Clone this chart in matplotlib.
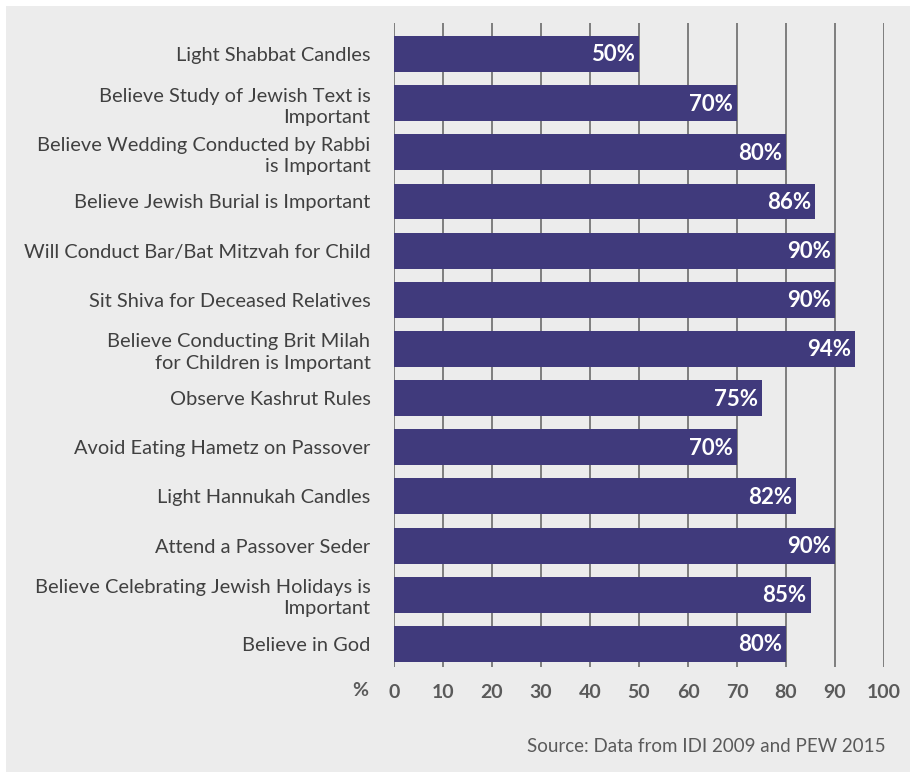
import matplotlib.pyplot as plt
from matplotlib.patches import Rectangle

labels = [
    "Light Shabbat Candles",
    "Believe Study of Jewish Text is\nImportant",
    "Believe Wedding Conducted by Rabbi\nis Important",
    "Believe Jewish Burial is Important",
    "Will Conduct Bar/Bat Mitzvah for Child",
    "Sit Shiva for Deceased Relatives",
    "Believe Conducting Brit Milah\nfor Children is Important",
    "Observe Kashrut Rules",
    "Avoid Eating Hametz on Passover",
    "Light Hannukah Candles",
    "Attend a Passover Seder",
    "Believe Celebrating Jewish Holidays is\nImportant",
    "Believe in God",
]
values = [50, 70, 80, 86, 90, 90, 94, 75, 70, 82, 90, 85, 80]
ticks = [0, 10, 20, 30, 40, 50, 60, 70, 80, 90, 100]
source = "Source: Data from IDI 2009 and PEW 2015"

W, H = 910, 772
bg = "#ececec"
bar_c = "#403a7c"
txt_c = "#404040"
plt.rcParams['font.family'] = ['Lato', 'DejaVu Sans']

fig = plt.figure(figsize=(W / 100, H / 100), dpi=100, facecolor="white")
fig.patches.append(Rectangle((6 / W, 0), 1 - 6 / W, 1 - 6 / H, transform=fig.transFigure,
                             facecolor=bg, edgecolor="none", zorder=-1))

ax = fig.add_axes([394 / W, 1 - 667 / H, (884 - 394) / W, (667 - 23) / H])
ax.set_facecolor("none")

y = list(range(len(values)))
ax.barh(y, values, height=0.73, color=bar_c, zorder=2)
for yi, v in zip(y, values):
    ax.text(v - 0.8, yi + 0.02, f"{v}%", ha="right", va="center", color="white",
            fontsize=16, fontweight="bold", zorder=3)

ax.set_xlim(0, 100)
ax.set_ylim(12.47, -0.63)
ax.set_xticks(ticks)
ax.set_xticklabels([str(t) for t in ticks], fontsize=14, fontweight="bold", color="#5a5a5a")
ax.set_yticks(y)
ax.set_yticklabels(labels, fontsize=14.4, color=txt_c, linespacing=1.3)
ax.tick_params(axis="y", length=0, pad=17)
ax.tick_params(axis="x", length=0, pad=12)
for t in ticks:
    ax.axvline(t, color="#7d7d7d", lw=1.4, zorder=1)
for s in ax.spines.values():
    s.set_visible(False)

fig.text(368 / W, 1 - 690 / H, "%", ha="right", va="center", fontsize=14,
         fontweight="bold", color="#5a5a5a")
fig.text(886 / W, 1 - 747 / H, source, ha="right", va="center", fontsize=13.5, color="#5a5a5a")

fig.savefig("out.png", dpi=100, facecolor=fig.get_facecolor())
